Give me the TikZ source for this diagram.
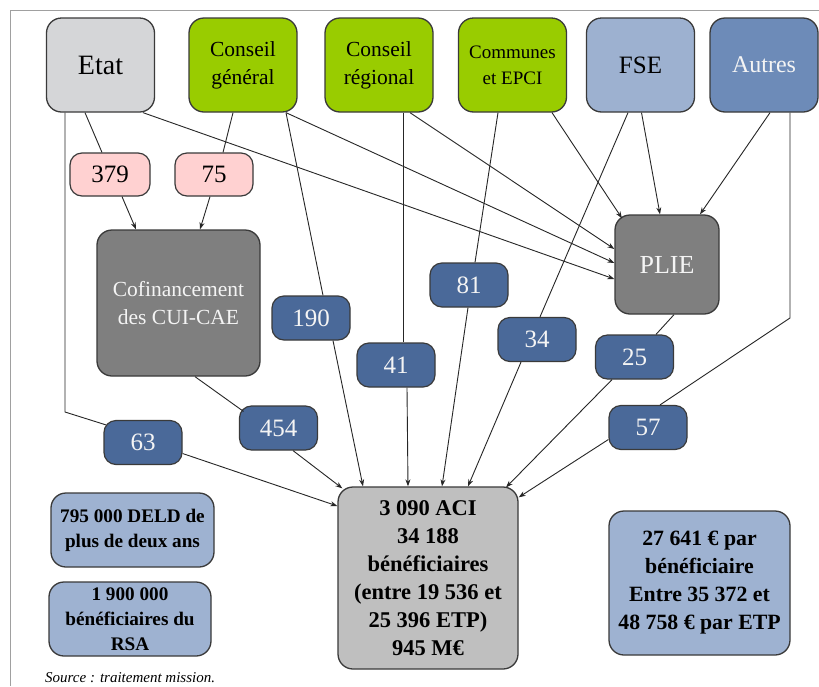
\documentclass[tikz,border=0pt]{standalone}
\usepackage{fontspec}
\setmainfont{Liberation Serif}
\usetikzlibrary{arrows.meta}
\definecolor{etatgray}{HTML}{D5D6D8}
\definecolor{cgreen}{HTML}{99CC00}
\definecolor{fseblue}{HTML}{9DB1D0}
\definecolor{autblue}{HTML}{6D8BB8}
\definecolor{pinkfill}{HTML}{FFD1D1}
\definecolor{darkfill}{HTML}{7F7F7F}
\definecolor{numblue}{HTML}{4A6999}
\definecolor{acigray}{HTML}{BFBFBF}
\definecolor{lightblue}{HTML}{9EB2D1}
\definecolor{bordercol}{HTML}{3A3A3A}
\definecolor{framecol}{HTML}{A0A0A0}
\definecolor{whitetext}{HTML}{F4F4F4}
\tikzset{
  box/.style={draw=bordercol, line width=1.3pt, rounded corners=15pt, align=center, inner sep=2pt},
  topbox/.style={box, minimum width=108pt, minimum height=94pt},
  numbox/.style={draw=bordercol, line width=1.2pt, rounded corners=12pt, minimum width=78pt, minimum height=44pt, inner sep=0pt,
    font=\fontsize{25}{28}\selectfont},
  bluenum/.style={numbox, fill=numblue, text=whitetext},
  pinknum/.style={numbox, fill=pinkfill, text=black},
  conn/.style={draw=black!85, line width=0.9pt},
  arr/.style={conn, -{Stealth[length=7pt,width=5pt]}},
}
\begin{document}
\begin{tikzpicture}[x=1pt,y=-1pt]
\useasboundingbox (0,0) rectangle (819,686);
\fill[white] (0,0) rectangle (819,686);
\draw[framecol, line width=1pt] (10,686) -- (10,10) -- (819,10);

% top row
\node[topbox, fill=etatgray, font=\fontsize{28}{32}\selectfont] (etat) at (100.5,65) {Etat};
\node[topbox, fill=cgreen, font=\fontsize{21.5}{28}\selectfont] (cg) at (243,65) {Conseil\\général};
\node[topbox, fill=cgreen, font=\fontsize{21.5}{28}\selectfont] (cr) at (379,65) {Conseil\\régional};
\node[topbox, fill=cgreen, font=\fontsize{19}{26}\selectfont] (com) at (512.5,65) {Communes\\et EPCI};
\node[topbox, fill=fseblue, font=\fontsize{25}{30}\selectfont] (fse) at (640.5,65) {FSE};
\node[topbox, fill=autblue, text=whitetext, font=\fontsize{24}{30}\selectfont] (autres) at (764,65) {Autres};

% pink numbers
\node[pinknum, minimum width=80pt, minimum height=43pt] (n379) at (110,174.5) {379};
\node[pinknum, minimum height=43pt] (n75) at (214,174.5) {75};

% middle boxes
\node[box, fill=darkfill, text=whitetext, minimum width=163pt, minimum height=146pt, font=\fontsize{21.5}{28}\selectfont] (cofin) at (178.5,303) {Cofinancement\\des CUI-CAE};
\node[box, fill=darkfill, text=whitetext, minimum width=104pt, minimum height=99pt, font=\fontsize{26}{30}\selectfont] (plie) at (667,264.5) {PLIE};

% blue numbers
\node[bluenum] (n190) at (311,318) {190};
\node[bluenum] (n41) at (396,365) {41};
\node[bluenum] (n81) at (469,285) {81};
\node[bluenum] (n34) at (537,339.5) {34};
\node[bluenum] (n25) at (634.5,357) {25};
\node[bluenum] (n57) at (648,427.5) {57};
\node[bluenum] (n454) at (278.5,428) {454};
\node[bluenum] (n63) at (143,442.5) {63};

% bottom boxes
\node[box, fill=acigray, minimum width=180pt, minimum height=182pt, font=\bfseries\fontsize{22.5}{28}\selectfont] (aci) at (428,578)
  {3 090 ACI\\34 188\\bénéficiaires\\(entre 19 536 et\\25 396 ETP)\\945 M€};
\node[box, fill=lightblue, minimum width=163pt, minimum height=74pt, font=\bfseries\fontsize{19.2}{25}\selectfont] (deld) at (132.5,530)
  {795 000 DELD de\\plus de deux ans};
\node[box, fill=lightblue, minimum width=162pt, minimum height=74pt, font=\bfseries\fontsize{19.2}{25}\selectfont] (rsa) at (130,619)
  {1 900 000\\bénéficiaires du\\RSA};
\node[box, fill=lightblue, minimum width=181pt, minimum height=144pt, font=\bfseries\fontsize{21.8}{28}\selectfont] (cout) at (699.5,583)
  {27 641 € par\\bénéficiaire\\Entre 35 372 et\\48 758 € par ETP};

\node[anchor=base west, inner sep=0pt, font=\itshape\fontsize{15}{17}\selectfont] (src) at (45,682.5) {Source : traitement mission.};

% coordinates for bends
\coordinate (etatbend) at (65,412);
\coordinate (autbend) at (790,318);

% connectors
\draw[conn] ([xshift=-15.5pt]etat.south) -- ([xshift=-8pt]n379.north);
\draw[arr] ([xshift=12pt]n379.south) -- ([xshift=-42.5pt]cofin.north);
\draw[conn] ([xshift=-10pt]cg.south) -- ([xshift=9pt]n75.north);
\draw[arr] ([xshift=-4pt]n75.south) -- ([xshift=21.5pt]cofin.north);

\draw[arr] ([xshift=42.5pt]etat.south) -- ([yshift=-14.5pt]plie.west);
\draw[arr] ([xshift=43pt]cg.south) -- ([yshift=1.5pt]plie.west);
\draw[arr] ([xshift=31pt]cr.south) -- ([yshift=15.5pt]plie.west);

\draw[conn] ([xshift=43pt]cg.south) -- ([xshift=12pt]n190.north);
\draw[arr] ([xshift=22pt]n190.south) -- ([xshift=-65pt]aci.north);

\draw[conn] ([xshift=24pt]cr.south) -- ([xshift=7pt]n41.north);
\draw[arr] ([xshift=11pt]n41.south) -- ([xshift=-20pt]aci.north);

\draw[conn] ([xshift=-14.5pt]com.south) -- ([xshift=6pt]n81.north);
\draw[arr] ([xshift=-1pt]n81.south) -- ([xshift=14pt]aci.north);

\draw[conn] ([xshift=-12.5pt]fse.south) -- ([xshift=3pt]n34.north);
\draw[arr] ([xshift=-16pt]n34.south) -- ([xshift=40pt]aci.north);

\draw[arr] ([xshift=39.5pt]com.south) -- ([xshift=-45pt,yshift=-4pt]plie.north);
\draw[arr] ([xshift=1pt]fse.south) -- ([xshift=-7pt]plie.north);
\draw[arr] ([xshift=6pt]autres.south) -- ([xshift=33pt]plie.north);

\draw[conn] ([xshift=7pt]plie.south) -- ([xshift=21.5pt]n25.north);
\draw[arr] ([xshift=-22.5pt]n25.south) -- ([xshift=78pt,yshift=-1pt]aci.north);

\draw[conn] ([xshift=26pt]autres.south) -- (autbend) -- ([xshift=12pt]n57.north);
\draw[arr] ([yshift=-12pt]n57.west) -- ([yshift=-11pt]aci.north east);

\draw[conn] ([xshift=-35.5pt]etat.south) -- (etatbend) -- ([xshift=-37pt,yshift=-5pt]n63.north);
\draw[arr] ([yshift=-11pt]n63.east) -- ([yshift=72pt]aci.west);

\draw[conn] ([xshift=16.5pt]cofin.south) -- ([xshift=-35pt,yshift=-6pt]n454.north);
\draw[arr] ([xshift=14.5pt]n454.south) -- ([xshift=5pt,yshift=-2pt]aci.north west);
\end{tikzpicture}
\end{document}
